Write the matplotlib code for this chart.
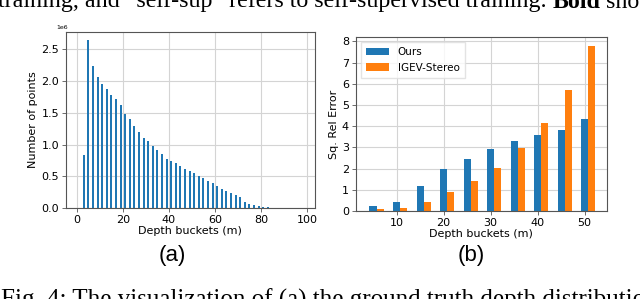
import numpy as np
import matplotlib
matplotlib.use('Agg')
import matplotlib.pyplot as plt

# (a) ground-truth depth distribution, counts in units of 1e6
bucket_centers = np.arange(3, 99, 2)
point_counts = [0.84, 2.64, 2.23, 2.06, 1.95, 1.88, 1.78, 1.71, 1.62, 1.48,
                1.40, 1.30, 1.20, 1.11, 1.06, 0.97, 0.91, 0.85, 0.78, 0.74,
                0.71, 0.66, 0.62, 0.59, 0.55, 0.50, 0.47, 0.43, 0.39, 0.35,
                0.30, 0.27, 0.24, 0.21, 0.17, 0.10, 0.06, 0.05, 0.03, 0.025,
                0.012, 0.008, 0.005, 0.004, 0.003, 0.002, 0.002, 0.001]

# (b) Sq. Rel error per depth bucket
err_buckets = [5, 10, 15, 20, 25, 30, 35, 40, 45, 50]
err_ours = [0.23, 0.42, 1.19, 1.98, 2.45, 2.93, 3.31, 3.58, 3.81, 4.35]
err_igev = [0.09, 0.13, 0.41, 0.88, 1.44, 2.04, 2.98, 4.17, 5.71, 7.78]

top_caption = 'training, and \u201cself-sup\u201d refers to self-supervised training. '
bottom_caption = 'Fig. 4: The visualization of (a) the ground truth depth distribution'

BLUE = '#1f77b4'
ORANGE = '#ff7f0e'
GRID = '#d4d4d4'
SPINE = '#555555'
FS = 8

fig = plt.figure(figsize=(6.4, 2.99), dpi=100, facecolor='w')


def style_axes(ax):
    ax.set_axisbelow(True)
    ax.grid(True, color=GRID, lw=0.8)
    for s in ax.spines.values():
        s.set_color(SPINE)
        s.set_linewidth(0.8)
    ax.tick_params(labelsize=FS, length=3, width=0.6, color=SPINE, pad=2)


# ---------------------------------------------------------------- (a)
ax1 = fig.add_axes([0.103, 0.304, 0.389, 0.589])
ax1.bar(bucket_centers, point_counts, width=0.9, color=BLUE)
ax1.set_xlim(-4.8, 103.5)
ax1.set_xticks([0, 20, 40, 60, 80, 100])
ax1.set_yticks([0, 0.5, 1.0, 1.5, 2.0, 2.5])
ax1.set_yticklabels(['0.0', '0.5', '1.0', '1.5', '2.0', '2.5'])
ax1.set_xlabel('Depth buckets (m)', fontsize=FS, labelpad=1)
ax1.set_ylabel('Number of points', fontsize=FS, labelpad=2)
ax1.text(-0.04, 1.01, '1e6', transform=ax1.transAxes, fontsize=4.5,
         ha='left', va='bottom')
style_axes(ax1)

# ---------------------------------------------------------------- (b)
ax2 = fig.add_axes([0.556, 0.294, 0.392, 0.582])
w = 1.5
xb = np.array(err_buckets, dtype=float)
ax2.bar(xb, err_ours, width=w, color=BLUE, label='Ours')
ax2.bar(xb + w, err_igev, width=w, color=ORANGE, label='IGEV-Stereo')
ax2.set_xlim(1.35, 54.7)
ax2.set_ylim(0, 8.2)
ax2.set_xticks([10, 20, 30, 40, 50])
ax2.set_yticks(range(0, 9))
ax2.set_xlabel('Depth buckets (m)', fontsize=FS, labelpad=1)
ax2.set_ylabel('Sq. Rel Error', fontsize=FS, labelpad=2)
ax2.legend(loc='upper left', fontsize=7.5, frameon=True, fancybox=False,
           edgecolor='#dddddd', handlelength=2.2, borderpad=0.5,
           labelspacing=0.5)
style_axes(ax2)

# ---------------------------------------------------------------- captions
fig.text(172 / 640, 1 - 255 / 299, '(a)', fontsize=16, ha='center', va='center',
         family='Liberation Sans')
fig.text(471 / 640, 1 - 255 / 299, '(b)', fontsize=16, ha='center', va='center',
         family='Liberation Sans')

cap_fs = 17.3
t = fig.text(-2 / 640, 1 - 7.5 / 299, top_caption, fontsize=cap_fs, ha='left',
             va='baseline', family='Liberation Serif')
fig.canvas.draw()
bb = t.get_window_extent()
b = fig.text(bb.x1 / 640, 1 - 7.5 / 299, 'Bold', fontsize=cap_fs, ha='left',
             va='baseline', family='Liberation Serif', weight='bold')
bb2 = b.get_window_extent()
fig.text(bb2.x1 / 640 + 0.008, 1 - 7.5 / 299, 'sho', fontsize=cap_fs, ha='left',
         va='baseline', family='Liberation Serif')

fig.text(1 / 640, 1 - 307 / 299, bottom_caption, fontsize=18, ha='left',
         va='baseline', family='Liberation Serif')

fig.savefig('out.png', dpi=100)
